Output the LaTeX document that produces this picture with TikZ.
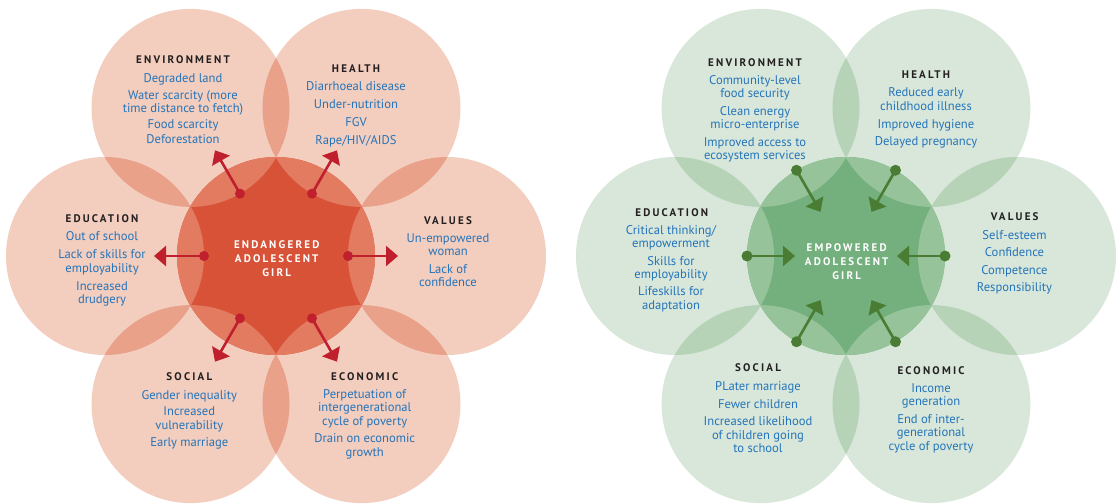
\documentclass[tikz,border=0pt]{standalone}
\usepackage{fontspec}
\setmainfont{PT Sans}
\newfontfamily\headfont[LetterSpace=20]{PT Sans}
\usetikzlibrary{arrows.meta,calc}
\definecolor{rPetal}{HTML}{F3CDBD}
\definecolor{rOver}{HTML}{EAA18A}
\definecolor{rLens}{HTML}{E27B60}
\definecolor{rStar}{HTML}{D85238}
\definecolor{rArrow}{HTML}{C0202D}
\definecolor{gPetal}{HTML}{D8E7D9}
\definecolor{gOver}{HTML}{B6D3B8}
\definecolor{gLens}{HTML}{97C39A}
\definecolor{gStar}{HTML}{74AF7E}
\definecolor{gArrow}{HTML}{4A7D33}
\definecolor{headC}{HTML}{231F20}
\definecolor{bodyC}{HTML}{2474BA}
\newcommand\drawflower[6]{%
  \coordinate (#1c) at (#2);
  \foreach \a/\n in {0/val,-60/hea,-120/env,180/edu,120/soc,60/eco}{
    \coordinate (#1\n) at ($(#1c)+(\a:171)$);
  }
  \foreach \n in {val,hea,env,edu,soc,eco}{
    \fill[#3] (#1\n) circle[radius=99pt];
  }
  \foreach \p/\q in {val/hea,hea/env,env/edu,edu/soc,soc/eco,eco/val}{
    \begin{scope}
      \clip (#1\p) circle[radius=99pt];
      \fill[#4] (#1\q) circle[radius=99pt];
    \end{scope}
  }
  \fill[#6] (#1c) circle[radius=99pt];
  \begin{scope}
    \clip (#1c) circle[radius=99pt];
    \foreach \n in {val,hea,env,edu,soc,eco}{
      \fill[#5] (#1\n) circle[radius=99pt];
    }
  \end{scope}
}
\begin{document}
\begin{tikzpicture}[x=1pt,y=-1pt,
  head/.style={font=\headfont\bfseries\fontsize{11}{13}\selectfont, text=headC, inner sep=0pt, anchor=base},
  body/.style={font=\fontsize{12.6}{13.5}\selectfont, text=bodyC, align=center, inner sep=0pt, anchor=north},
  ctr/.style={font=\headfont\bfseries\fontsize{11}{13.7}\selectfont, text=white, align=center, inner sep=0pt, anchor=north},
  rdot/.style={circle, fill=rArrow, inner sep=0pt, minimum size=10pt},
  gdot/.style={circle, fill=gArrow, inner sep=0pt, minimum size=11pt},
  rarr/.style={draw=rArrow, line width=2.6pt, -{Triangle[length=12pt,width=20pt]}},
  garr/.style={draw=gArrow, line width=2.6pt, -{Triangle[length=12pt,width=20pt]}}]
\useasboundingbox (0,0) rectangle (1118,503);

\drawflower{L}{276,256}{rPetal}{rOver}{rLens}{rStar}
\drawflower{G}{846,256}{gPetal}{gOver}{gLens}{gStar}

% arrows left (outward)
\foreach \a/\n in {0/val,-60/hea,-120/env,180/edu,120/soc,60/eco}{
  \node[rdot] (Ld\n) at ($(Lc)+(\a:72)$) {};
  \coordinate (Lt\n) at ($(Lc)+(\a:122)$);
  \draw[rarr] (Ld\n.center) -- (Lt\n);
}
% arrows right (inward)
\foreach \a/\n in {0/val,-60/hea,-120/env,180/edu,120/soc,60/eco}{
  \node[gdot] (Gd\n) at ($(Gc)+(\a:99)$) {};
  \coordinate (Gt\n) at ($(Gc)+(\a:51)$);
  \draw[garr] (Gd\n.center) -- (Gt\n);
}

% left texts
\node[head] (LhEnv) at (183,63.5) {ENVIRONMENT};
\node[body] (LbEnv) at (183,73) {\strut Degraded land\\[3pt] Water scarcity (more\\ time distance to fetch)\\[2pt] Food scarcity\\[1.5pt] Deforestation};
\node[head] (LhHea) at (356,72.5) {HEALTH};
\node[body] (LbHea) at (356,81.2) {\strut Diarrhoeal disease\\[4.5pt] Under-nutrition\\[4.5pt] FGV\\[4.5pt] Rape/HIV/AIDS};
\node[head] (LhVal) at (448,224.2) {VALUES};
\node[body] (LbVal) at (448,232.8) {\strut Un-empowered\\ woman\\[4pt] Lack of\\ confidence};
\node[head] (LhEdu) at (102,222.8) {EDUCATION};
\node[body] (LbEdu) at (102,231.2) {\strut Out of school\\[4.5pt] Lack of skills for\\ employability\\[4.5pt] Increased\\ drudgery};
\node[head] (LhSoc) at (189.3,380.2) {SOCIAL};
\node[body] (LbSoc) at (189.3,389.5) {\strut Gender inequality\\[3.2pt] Increased\\ vulnerability\\[3.2pt] Early marriage};
\node[head] (LhEco) at (364.7,380.2) {ECONOMIC};
\node[body] (LbEco) at (364.7,388.5) {\strut Perpetuation of\\ intergenerational\\ cycle of poverty\\[4pt] Drain on economic\\ growth};
\node[ctr] (Lctr) at (276.7,238.9) {\strut ENDANGERED\\ ADOLESCENT\\ GIRL};

% right texts
\node[head] (GhEnv) at (755,66.2) {ENVIRONMENT};
\node[body] (GbEnv) at (755,74.5) {\strut Community-level\\ food security\\[4pt] Clean energy\\ micro-enterprise\\[4pt] Improved access to\\ ecosystem services};
\node[head] (GhHea) at (926,78.5) {HEALTH};
\node[body] (GbHea) at (926,87.2) {\strut Reduced early\\ childhood illness\\[4.5pt] Improved hygiene\\[3.5pt] Delayed pregnancy};
\node[head] (GhVal) at (1014.7,220.8) {VALUES};
\node[body] (GbVal) at (1014.5,229.5) {\strut Self-esteem\\[3.5pt] Confidence\\[4.5pt] Competence\\[3.5pt] Responsibility};
\node[head] (GhEdu) at (671.7,216.2) {EDUCATION};
\node[body] (GbEdu) at (671,224.5) {\strut Critical thinking/\\ empowerment\\[4pt] Skills for\\ employability\\[3.5pt] Lifeskills for\\ adaptation};
\node[head] (GhSoc) at (758,371.8) {SOCIAL};
\node[body] (GbSoc) at (758,381.2) {\strut PLater marriage\\[4pt] Fewer children\\[4pt] Increased likelihood\\ of children going\\ to school};
\node[head] (GhEco) at (931,374.2) {ECONOMIC};
\node[body] (GbEco) at (931,382.8) {\strut Income\\ generation\\[4pt] End of inter-\\ generational\\ cycle of poverty};
\node[ctr] (Gctr) at (846.7,242.2) {\strut EMPOWERED\\ ADOLESCENT\\ GIRL};
\end{tikzpicture}
\end{document}
